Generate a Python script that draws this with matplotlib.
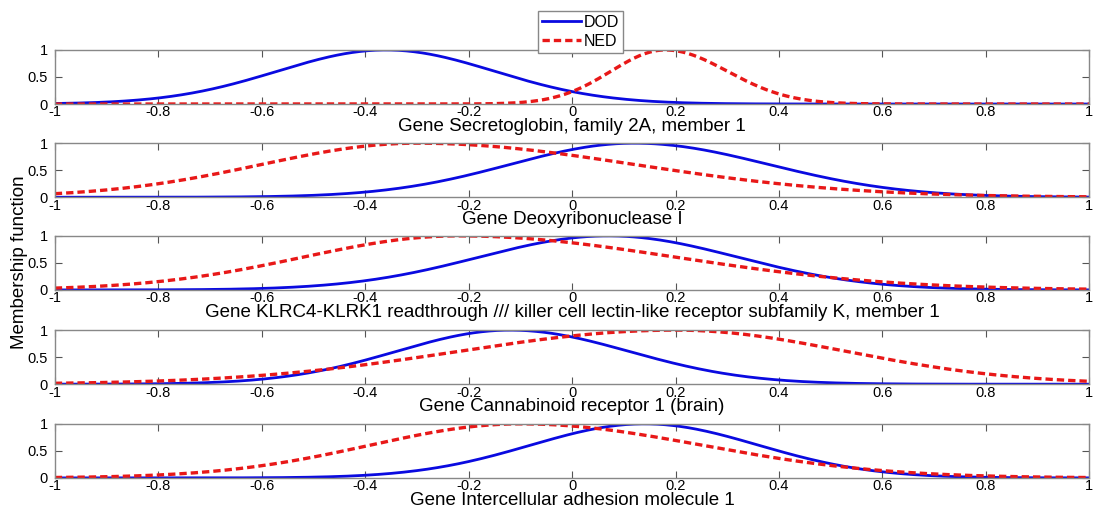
import numpy as np
import matplotlib.pyplot as plt

plt.rcParams['font.family'] = ['Liberation Sans', 'DejaVu Sans']

# two-sided gaussian membership parameters
gene_names = ['Gene Secretoglobin, family 2A, member 1',
              'Gene Deoxyribonuclease I',
              'Gene KLRC4-KLRK1 readthrough /// killer cell lectin-like receptor subfamily K, member 1',
              'Gene Cannabinoid receptor 1 (brain)',
              'Gene Intercellular adhesion molecule 1']
dod_center = [-0.36, 0.12, 0.07, -0.12, 0.14]
dod_sigma_left = [0.21, 0.24, 0.25, 0.22, 0.22]
dod_sigma_right = [0.21, 0.26, 0.25, 0.23, 0.22]
ned_center = [0.18, -0.30, -0.22, 0.20, -0.10]
ned_sigma_left = [0.105, 0.30, 0.30, 0.42, 0.29]
ned_sigma_right = [0.12, 0.42, 0.42, 0.33, 0.35]

x_ticks = [-1, -0.8, -0.6, -0.4, -0.2, 0, 0.2, 0.4, 0.6, 0.8, 1]
x_ticklabels = ['-1', '-0.8', '-0.6', '-0.4', '-0.2', '0', '0.2', '0.4', '0.6', '0.8', '1']


def gauss2(x, c, sl, sr):
    s = np.where(x < c, sl, sr)
    return np.exp(-(x - c) ** 2 / (2 * s ** 2))


fig = plt.figure(figsize=(10.96, 5.15), dpi=100)
bottoms = [0.798, 0.617, 0.437, 0.254, 0.072]
x = np.linspace(-1, 1, 401)
for i in range(5):
    ax = fig.add_axes([0.050, bottoms[i], 0.944, 0.105])
    dod = gauss2(x, dod_center[i], dod_sigma_left[i], dod_sigma_right[i])
    ned = gauss2(x, ned_center[i], ned_sigma_left[i], ned_sigma_right[i])
    l1, = ax.plot(x, dod, color='#0a0ae0', lw=2, label='DOD')
    l2, = ax.plot(x, ned, color='#e81818', lw=2.4, ls=(0, (2.2, 1.2)), label='NED')
    ax.set_xlim(-1, 1)
    ax.set_ylim(0, 1)
    ax.set_xticks(x_ticks)
    ax.set_xticklabels(x_ticklabels)
    ax.set_yticks([0, 0.5, 1])
    ax.set_yticklabels(['0', '0.5', '1'])
    ax.tick_params(direction='in', top=True, right=True, labelsize=10.5,
                   length=5, color='#555555')
    ax.tick_params(axis='x', pad=1)
    ax.tick_params(axis='y', pad=5)
    for s in ax.spines.values():
        s.set_color('#888888')
        s.set_linewidth(1)
    ax.set_xlabel(gene_names[i], fontsize=13.5, labelpad=-1)

fig.text(0.018, 0.49, 'Membership function', rotation=90, va='center',
         ha='center', fontsize=13.5)
leg = fig.legend([l1, l2], ['DOD', 'NED'], loc='upper left',
                 bbox_to_anchor=(0.484, 0.995), fontsize=11.5,
                 handlelength=2.4, handletextpad=0.2, borderpad=0.25,
                 labelspacing=0.25, fancybox=False, framealpha=1)
leg.get_frame().set_edgecolor('#888888')

fig.savefig('out.png', dpi=100)
